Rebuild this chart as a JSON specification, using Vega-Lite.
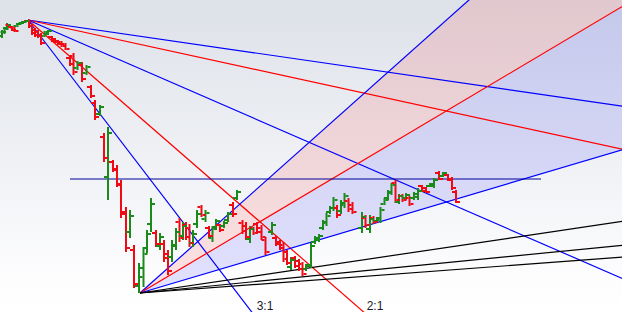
{
  "$schema": "https://vega.github.io/schema/vega-lite/v6.json",
  "width": 622,
  "height": 312,
  "autosize": {"type": "none"},
  "padding": 0,
  "config": {
    "view": {
      "stroke": null,
      "fill": {"gradient": "linear", "x1": 0, "y1": 0, "x2": 0, "y2": 1,
        "stops": [{"offset": 0, "color": "#dde1e8"}, {"offset": 0.9, "color": "#fdfdfe"}, {"offset": 1, "color": "#ffffff"}]}
    }
  },
  "resolve": {"scale": {"color": "independent", "fill": "independent", "stroke": "independent"}},
  "datasets": {
    "bars": [
      {"x":2,"h":282,"l":274,"o":276,"c":280,"d":"u"},
      {"x":4.5,"h":285,"l":278,"o":280,"c":283,"d":"u"},
      {"x":7,"h":289,"l":282,"o":284,"c":287,"d":"u"},
      {"x":9.5,"h":288,"l":284,"o":287,"c":285,"d":"d"},
      {"x":12,"h":286,"l":281,"o":285,"c":282,"d":"d"},
      {"x":14.5,"h":285,"l":280,"o":284,"c":281,"d":"d"},
      {"x":17.5,"h":289,"l":285,"o":286,"c":288,"d":"u"},
      {"x":20,"h":290,"l":287,"o":288,"c":289,"d":"u"},
      {"x":22.5,"h":291,"l":288,"o":289,"c":290,"d":"u"},
      {"x":25,"h":292,"l":289,"o":290,"c":291,"d":"u"},
      {"x":29,"h":292.5,"l":284,"o":291,"c":286,"d":"d"},
      {"x":32,"h":288,"l":277,"o":286,"c":279,"d":"d"},
      {"x":35,"h":284,"l":275,"o":282,"c":277,"d":"d"},
      {"x":38,"h":282,"l":274,"o":280,"c":276,"d":"d"},
      {"x":41,"h":279,"l":267,"o":276,"c":269,"d":"d"},
      {"x":44.5,"h":281,"l":275,"o":276,"c":280,"d":"u"},
      {"x":48,"h":282,"l":277,"o":278,"c":281,"d":"u"},
      {"x":52,"h":276,"l":270,"o":275,"c":271,"d":"d"},
      {"x":55,"h":274,"l":269,"o":273,"c":270,"d":"d"},
      {"x":58,"h":272,"l":267,"o":271,"c":268,"d":"d"},
      {"x":61.5,"h":271,"l":265,"o":270,"c":266,"d":"d"},
      {"x":65.5,"h":269,"l":262,"o":268,"c":263,"d":"d"},
      {"x":70,"h":256,"l":246,"o":254,"c":248,"d":"d"},
      {"x":73.5,"h":259,"l":237,"o":256,"c":240,"d":"d"},
      {"x":77.5,"h":251,"l":242,"o":244,"c":249,"d":"u"},
      {"x":82,"h":250,"l":230,"o":247,"c":233,"d":"d"},
      {"x":86.5,"h":247,"l":237,"o":239,"c":245,"d":"u"},
      {"x":91,"h":227,"l":214,"o":225,"c":216,"d":"d"},
      {"x":95,"h":212,"l":192,"o":209,"c":195,"d":"d"},
      {"x":100,"h":207,"l":196,"o":198,"c":205,"d":"u"},
      {"x":104,"h":179,"l":150,"o":175,"c":154,"d":"d"},
      {"x":108,"h":185,"l":112,"o":135,"c":179,"d":"u"},
      {"x":113,"h":152,"l":140,"o":150,"c":142,"d":"d"},
      {"x":117,"h":147,"l":125,"o":143,"c":128,"d":"d"},
      {"x":121,"h":132,"l":94,"o":127,"c":98,"d":"d"},
      {"x":126,"h":105,"l":60,"o":100,"c":64,"d":"d"},
      {"x":130,"h":102,"l":74,"o":80,"c":96,"d":"u"},
      {"x":134,"h":67,"l":24,"o":62,"c":28,"d":"d"},
      {"x":139,"h":49,"l":19,"o":26,"c":44,"d":"u"},
      {"x":143.5,"h":65,"l":25,"o":35,"c":58,"d":"u"},
      {"x":147,"h":82,"l":59,"o":64,"c":78,"d":"u"},
      {"x":151,"h":114,"l":80,"o":88,"c":108,"d":"u"},
      {"x":156,"h":82,"l":65,"o":79,"c":68,"d":"d"},
      {"x":160,"h":79,"l":62,"o":66,"c":75,"d":"u"},
      {"x":164,"h":72,"l":50,"o":68,"c":54,"d":"d"},
      {"x":168,"h":62,"l":37,"o":58,"c":41,"d":"d"},
      {"x":172,"h":72,"l":50,"o":55,"c":67,"d":"u"},
      {"x":176,"h":84,"l":62,"o":66,"c":80,"d":"u"},
      {"x":179.5,"h":94,"l":70,"o":90,"c":74,"d":"d"},
      {"x":183,"h":90,"l":72,"o":76,"c":86,"d":"u"},
      {"x":186,"h":90,"l":72,"o":87,"c":75,"d":"d"},
      {"x":189.5,"h":88,"l":65,"o":84,"c":69,"d":"d"},
      {"x":193,"h":82,"l":65,"o":69,"c":78,"d":"u"},
      {"x":197,"h":102,"l":84,"o":88,"c":98,"d":"u"},
      {"x":201.5,"h":107,"l":95,"o":105,"c":97,"d":"d"},
      {"x":205.5,"h":102,"l":90,"o":93,"c":99,"d":"u"},
      {"x":209,"h":86,"l":74,"o":84,"c":76,"d":"d"},
      {"x":212.5,"h":86,"l":70,"o":74,"c":83,"d":"u"},
      {"x":216,"h":93,"l":82,"o":85,"c":91,"d":"u"},
      {"x":220,"h":88,"l":80,"o":87,"c":82,"d":"d"},
      {"x":224,"h":91,"l":84,"o":86,"c":89,"d":"u"},
      {"x":228,"h":100,"l":90,"o":92,"c":98,"d":"u"},
      {"x":233,"h":110,"l":95,"o":107,"c":98,"d":"d"},
      {"x":237,"h":122,"l":112,"o":114,"c":120,"d":"u"},
      {"x":242.5,"h":92,"l":78,"o":89,"c":81,"d":"d"},
      {"x":246,"h":90,"l":72,"o":86,"c":75,"d":"d"},
      {"x":250,"h":86,"l":69,"o":73,"c":83,"d":"u"},
      {"x":253.5,"h":85,"l":77,"o":84,"c":79,"d":"d"},
      {"x":257,"h":90,"l":78,"o":88,"c":80,"d":"d"},
      {"x":261.5,"h":87,"l":72,"o":84,"c":75,"d":"d"},
      {"x":265.5,"h":75,"l":57,"o":72,"c":60,"d":"d"},
      {"x":272,"h":90,"l":77,"o":80,"c":87,"d":"u"},
      {"x":276,"h":76,"l":66,"o":74,"c":68,"d":"d"},
      {"x":280,"h":72,"l":62,"o":70,"c":64,"d":"d"},
      {"x":283.5,"h":70,"l":50,"o":67,"c":53,"d":"d"},
      {"x":287,"h":62,"l":47,"o":60,"c":49,"d":"d"},
      {"x":291,"h":55,"l":42,"o":45,"c":52,"d":"u"},
      {"x":295,"h":56,"l":44,"o":54,"c":46,"d":"d"},
      {"x":299,"h":53,"l":41,"o":51,"c":43,"d":"d"},
      {"x":302.5,"h":50,"l":36,"o":48,"c":38,"d":"d"},
      {"x":306,"h":48,"l":41,"o":43,"c":46,"d":"u"},
      {"x":311,"h":69,"l":44,"o":47,"c":66,"d":"u"},
      {"x":315,"h":76,"l":68,"o":70,"c":74,"d":"u"},
      {"x":319,"h":78,"l":70,"o":72,"c":76,"d":"u"},
      {"x":323,"h":92,"l":82,"o":84,"c":90,"d":"u"},
      {"x":326.5,"h":99,"l":86,"o":89,"c":96,"d":"u"},
      {"x":330,"h":106,"l":98,"o":100,"c":104,"d":"u"},
      {"x":333.5,"h":115,"l":101,"o":104,"c":112,"d":"u"},
      {"x":337,"h":107,"l":94,"o":104,"c":97,"d":"d"},
      {"x":341,"h":112,"l":98,"o":101,"c":109,"d":"u"},
      {"x":344.5,"h":119,"l":104,"o":107,"c":116,"d":"u"},
      {"x":348.5,"h":114,"l":100,"o":111,"c":103,"d":"d"},
      {"x":352.5,"h":110,"l":98,"o":107,"c":100,"d":"d"},
      {"x":362,"h":100,"l":79,"o":84,"c":95,"d":"u"},
      {"x":365.5,"h":97,"l":84,"o":94,"c":87,"d":"d"},
      {"x":370,"h":97,"l":79,"o":83,"c":93,"d":"u"},
      {"x":373.5,"h":96,"l":88,"o":94,"c":90,"d":"d"},
      {"x":377,"h":95,"l":90,"o":91,"c":94,"d":"u"},
      {"x":380.5,"h":105,"l":89,"o":92,"c":102,"d":"u"},
      {"x":384.5,"h":114,"l":107,"o":108,"c":112,"d":"u"},
      {"x":388,"h":122,"l":112,"o":114,"c":120,"d":"u"},
      {"x":391.5,"h":129,"l":117,"o":119,"c":127,"d":"u"},
      {"x":395.5,"h":132,"l":109,"o":129,"c":112,"d":"d"},
      {"x":399,"h":118,"l":108,"o":110,"c":116,"d":"u"},
      {"x":402.5,"h":118,"l":110,"o":116,"c":112,"d":"d"},
      {"x":406,"h":119,"l":112,"o":114,"c":117,"d":"u"},
      {"x":409.5,"h":116,"l":106,"o":114,"c":108,"d":"d"},
      {"x":414,"h":120,"l":112,"o":114,"c":118,"d":"u"},
      {"x":418,"h":124,"l":112,"o":115,"c":121,"d":"u"},
      {"x":422,"h":127,"l":120,"o":126,"c":121,"d":"d"},
      {"x":426,"h":125,"l":119,"o":124,"c":120,"d":"d"},
      {"x":430,"h":129,"l":125,"o":126,"c":128,"d":"u"},
      {"x":434,"h":134,"l":124,"o":126,"c":132,"d":"u"},
      {"x":439,"h":141,"l":132,"o":139,"c":133,"d":"d"},
      {"x":443,"h":140,"l":135,"o":136,"c":139,"d":"u"},
      {"x":448,"h":138,"l":131,"o":137,"c":132,"d":"d"},
      {"x":452,"h":135,"l":122,"o":133,"c":124,"d":"d"},
      {"x":456,"h":122,"l":109,"o":120,"c":110,"d":"d"}
    ],
    "fans": [
      {"id":"A 1x3","x1":28,"p1":292,"x2":1000,"p2":151.1},
      {"id":"A 1x2","x1":28,"p1":292,"x2":1000,"p2":80.6},
      {"id":"A 1x1","x1":28,"p1":292,"x2":1000,"p2":-130.8},
      {"id":"A 2x1","x1":28,"p1":292,"x2":1000,"p2":-553.6},
      {"id":"A 3x1","x1":28,"p1":292,"x2":1000,"p2":-976.5},
      {"id":"B 3x1","x1":140,"p1":19,"x2":1000,"p2":785},
      {"id":"B 2x1","x1":140,"p1":19,"x2":1000,"p2":530},
      {"id":"B 1x1","x1":140,"p1":19,"x2":1000,"p2":274.4},
      {"id":"B 1x2","x1":140,"p1":19,"x2":1000,"p2":146.7},
      {"id":"B 1x3","x1":140,"p1":19,"x2":1000,"p2":104.1},
      {"id":"B 1x4","x1":140,"p1":19,"x2":1000,"p2":82.9}
    ],
    "bands": [
      {"band":"3-2","x":140,"lo":19,"hi":19},
      {"band":"3-2","x":1000,"lo":530,"hi":785},
      {"band":"2-1","x":140,"lo":19,"hi":19},
      {"band":"2-1","x":1000,"lo":274.4,"hi":530}
    ],
    "hline": [{"x1":70,"x2":541,"p":133}],
    "labels": [{"t":"3:1","x":265,"p":2.5},{"t":"2:1","x":375,"p":2.5}]
  },
  "layer": [
    {
      "data": {"name": "bands"},
      "mark": {"type": "area", "clip": true, "fillOpacity": 0.11},
      "encoding": {
        "x": {"field": "x", "type": "quantitative", "scale": {"domain": [0, 622], "nice": false, "zero": false}, "axis": null},
        "y": {"field": "lo", "type": "quantitative", "scale": {"domain": [0, 312], "nice": false, "zero": false}, "axis": null},
        "y2": {"field": "hi"},
        "fill": {"field": "band", "type": "nominal", "scale": {"domain": ["3-2", "2-1"], "range": ["#ff0000", "#0000ff"]}, "legend": null}
      }
    },
    {
      "data": {"name": "fans"},
      "mark": {"type": "rule", "clip": true, "strokeWidth": 1.2},
      "encoding": {
        "x": {"field": "x1", "type": "quantitative", "scale": {"domain": [0, 622], "nice": false, "zero": false}, "axis": null},
        "y": {"field": "p1", "type": "quantitative", "scale": {"domain": [0, 312], "nice": false, "zero": false}, "axis": null},
        "x2": {"field": "x2"},
        "y2": {"field": "p2"},
        "stroke": {"field": "id", "type": "nominal",
          "scale": {"domain": ["A 1x3","A 1x2","A 1x1","A 2x1","A 3x1","B 3x1","B 2x1","B 1x1","B 1x2","B 1x3","B 1x4"],
                    "range": ["#0000ff","#ff0000","#0000ff","#ff0000","#0000ff","#0000ff","#ff0000","#0000ff","#000000","#000000","#000000"]},
          "legend": null}
      }
    },
    {
      "data": {"name": "hline"},
      "mark": {"type": "rule", "clip": true, "strokeWidth": 1.2, "color": "#00009a"},
      "encoding": {
        "x": {"field": "x1", "type": "quantitative", "scale": {"domain": [0, 622], "nice": false, "zero": false}, "axis": null},
        "x2": {"field": "x2"},
        "y": {"field": "p", "type": "quantitative", "scale": {"domain": [0, 312], "nice": false, "zero": false}, "axis": null}
      }
    },
    {
      "data": {"name": "bars"},
      "mark": {"type": "rule", "clip": true, "strokeWidth": 2},
      "encoding": {
        "x": {"field": "x", "type": "quantitative", "scale": {"domain": [0, 622], "nice": false, "zero": false}, "axis": null},
        "y": {"field": "h", "type": "quantitative", "scale": {"domain": [0, 312], "nice": false, "zero": false}, "axis": null},
        "y2": {"field": "l"},
        "color": {"field": "d", "type": "nominal", "scale": {"domain": ["u", "d"], "range": ["#1a8a1a", "#f00a14"]}, "legend": null}
      }
    },
    {
      "data": {"name": "bars"},
      "mark": {"type": "tick", "clip": true, "orient": "horizontal", "size": 3, "thickness": 2, "xOffset": -2.5, "opacity": 1},
      "encoding": {
        "x": {"field": "x", "type": "quantitative", "scale": {"domain": [0, 622], "nice": false, "zero": false}, "axis": null},
        "y": {"field": "o", "type": "quantitative", "scale": {"domain": [0, 312], "nice": false, "zero": false}, "axis": null},
        "color": {"field": "d", "type": "nominal", "scale": {"domain": ["u", "d"], "range": ["#1a8a1a", "#f00a14"]}, "legend": null}
      }
    },
    {
      "data": {"name": "bars"},
      "mark": {"type": "tick", "clip": true, "orient": "horizontal", "size": 3, "thickness": 2, "xOffset": 2.5, "opacity": 1},
      "encoding": {
        "x": {"field": "x", "type": "quantitative", "scale": {"domain": [0, 622], "nice": false, "zero": false}, "axis": null},
        "y": {"field": "c", "type": "quantitative", "scale": {"domain": [0, 312], "nice": false, "zero": false}, "axis": null},
        "color": {"field": "d", "type": "nominal", "scale": {"domain": ["u", "d"], "range": ["#1a8a1a", "#f00a14"]}, "legend": null}
      }
    },
    {
      "data": {"name": "labels"},
      "mark": {"type": "text", "font": "Liberation Sans", "fontSize": 12, "color": "#1a1a2a", "align": "center", "baseline": "alphabetic"},
      "encoding": {
        "x": {"field": "x", "type": "quantitative", "scale": {"domain": [0, 622], "nice": false, "zero": false}, "axis": null},
        "y": {"field": "p", "type": "quantitative", "scale": {"domain": [0, 312], "nice": false, "zero": false}, "axis": null},
        "text": {"field": "t"}
      }
    }
  ]
}
